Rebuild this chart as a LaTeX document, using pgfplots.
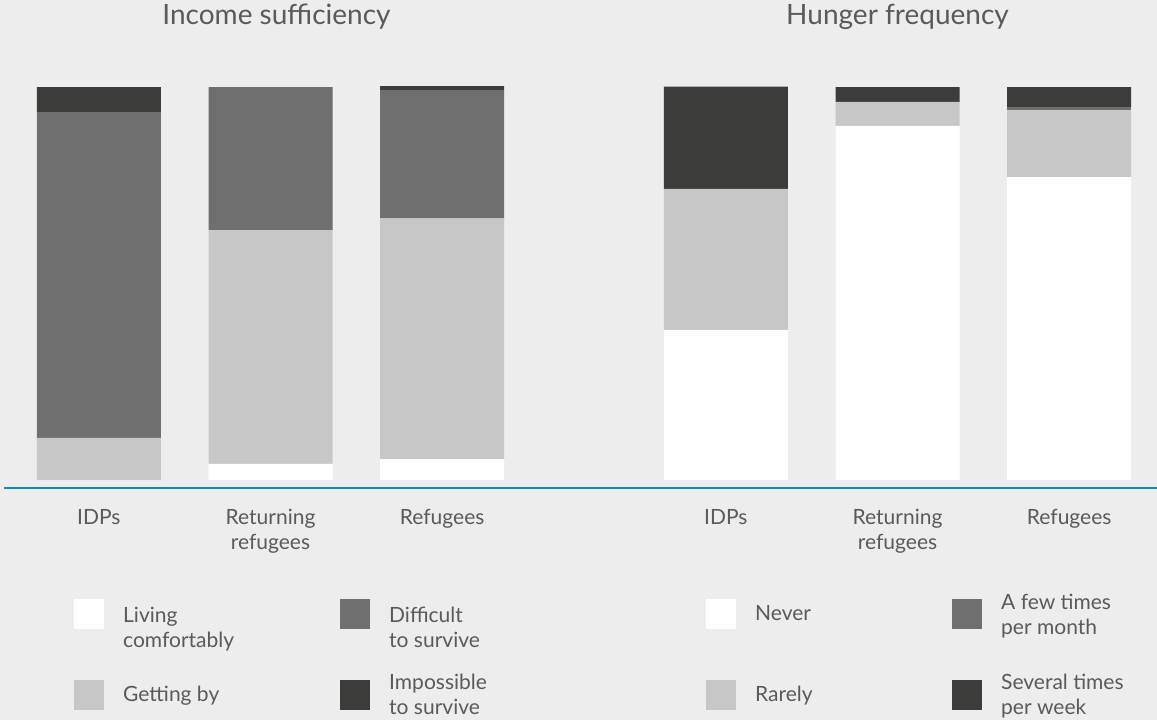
\documentclass[border=0pt]{standalone}
\usepackage{fontspec}
\setmainfont{Lato}
\usepackage{pgfplots}
\pgfplotsset{compat=1.18}
\usepackage{pgfplotstable}

\definecolor{bgc}{HTML}{EDEDED}
\definecolor{textc}{HTML}{5A5A5A}
\definecolor{lightc}{HTML}{C7C7C7}
\definecolor{midc}{HTML}{6F6F6F}
\definecolor{darkc}{HTML}{3C3C3B}
\definecolor{basec}{HTML}{0A89CF}

% shares of respondents (%), groups: 0 = IDPs, 1 = returning refugees, 2 = refugees
\pgfplotstableread{
grp living getting difficult impossible
0   0      10.7    82.9      6.4
1   4.1    59.5    36.4      0
2   5.3    61.3    32.6      1.0
}\incometable

\pgfplotstableread{
grp never rarely few several
0   38.2  35.9   0    26.0
1   90.1  6.1    0    3.8
2   77.1  17.0   0.8  5.1
}\hungertable

\newcommand{\lbl}{\fontsize{21}{25}\selectfont}
\newcommand{\st}{\rule[-7.5pt]{0pt}{25pt}}
% legend text cell: fixed 80pt high box, text pushed down by #1
\newcommand{\entry}[3]{\parbox[c][80pt][t]{#2}{\vspace*{#1}\st #3\st}}

\pgfplotsset{
  panel/.style={
    scale only axis, width=515pt, height=393pt, anchor=south west,
    xmin=-0.5, xmax=2.5, ymin=0, ymax=100, clip=false,
    ybar stacked, bar width=124pt,
    axis line style={draw=none}, major tick length=0pt, ytick=\empty,
    xtick={0,1,2},
    xticklabels={IDPs,{Returning\\refugees},Refugees},
    xticklabel style={align=center, anchor=north, inner sep=0pt, yshift=-29pt,
      font=\lbl, text=textc},
    title style={font=\fontsize{28}{34}\selectfont, text=textc, anchor=base,
      at={(axis description cs:0.5,1)}, yshift=57pt},
    legend columns=2, transpose legend, legend cell align=left,
    legend style={draw=none, fill=none, inner sep=0pt, anchor=north west,
      font=\lbl, text=textc, nodes={inner sep=0pt}, column sep=19pt, row sep=34pt},
  },
  sq/.style={legend image code/.code={\fill[##1] (0pt,-15pt) rectangle (30pt,15pt);}},
}

\begin{document}
\begin{tikzpicture}
\fill[bgc] (0,0) rectangle (1157pt,-720pt);

% income sufficiency
\begin{axis}[panel, at={(13pt,-480pt)}, title={Income sufficiency},
  title style={xshift=6pt},
  legend style={at={(axis description cs:0.11845,-0.28117)}}]
\addplot[fill=white, draw=none, sq] table[x=grp, y=living]{\incometable};
\addlegendentry{\entry{14.5pt}{198pt}{Living\\comfortably}}
\addplot[fill=lightc, draw=none, sq] table[x=grp, y=getting]{\incometable};
\addlegendentry{\entry{12.5pt}{198pt}{Getting by}}
\addplot[fill=midc, draw=none, sq] table[x=grp, y=difficult]{\incometable};
\addlegendentry{\entry{14.5pt}{198pt}{Difficult\\to survive}}
\addplot[fill=darkc, draw=none, sq] table[x=grp, y=impossible]{\incometable};
\addlegendentry{\entry{0.5pt}{198pt}{Impossible\\to survive}}
\end{axis}

% hunger frequency
\begin{axis}[panel, at={(640pt,-480pt)}, title={Hunger frequency},
  legend style={at={(axis description cs:0.12816,-0.28117)}}]
\addplot[fill=white, draw=none, sq] table[x=grp, y=never]{\hungertable};
\addlegendentry{\entry{12.5pt}{178pt}{Never}}
\addplot[fill=lightc, draw=none, sq] table[x=grp, y=rarely]{\hungertable};
\addlegendentry{\entry{12.5pt}{178pt}{Rarely}}
\addplot[fill=midc, draw=none, sq] table[x=grp, y=few]{\hungertable};
\addlegendentry{\entry{1.5pt}{178pt}{A few times\\per month}}
\addplot[fill=darkc, draw=none, sq] table[x=grp, y=several]{\hungertable};
\addlegendentry{\entry{0.5pt}{178pt}{Several times\\per week}}
\end{axis}

% baseline under both panels
\draw[basec, line width=2pt] (4pt,-488pt) -- (1157pt,-488pt);

\pgfresetboundingbox
\useasboundingbox (0,0) rectangle (1157pt,-720pt);
\end{tikzpicture}
\end{document}
